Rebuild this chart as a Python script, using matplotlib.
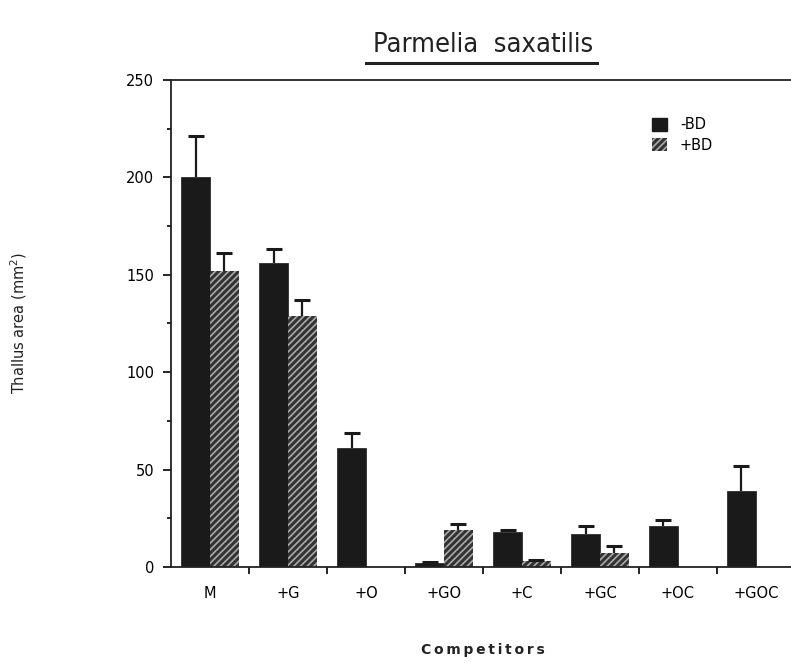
import matplotlib
matplotlib.use("Agg")
import matplotlib.pyplot as plt
import numpy as np
from matplotlib.patches import Patch

categories = ["M", "+G", "+O", "+GO", "+C", "+GC", "+OC", "+GOC"]
minus_bd = [200, 156, 61, 2, 18, 17, 21, 39]
minus_bd_err = [21, 7, 8, 0.5, 1, 4, 3, 13]
plus_bd = [152, 129, 0, 19, 3, 7, 0, 0]
plus_bd_err = [9, 8, 0, 3, 0.5, 4, 0, 0]

plt.rcParams['hatch.linewidth'] = 1.2
fig = plt.figure(figsize=(7.91, 6.65), dpi=100)
ax = fig.add_axes([0.2162, 0.1474, 0.7838, 0.7323])

x = np.arange(len(categories))
w = 0.37


def up_err(xs, ys, es):
    eb = ax.errorbar(xs, ys, yerr=[np.zeros(len(xs)), es], fmt='none',
                     ecolor='#1a1a1a', elinewidth=1.6, capsize=6, capthick=2.2, zorder=3)
    caps = eb[1]
    if len(caps) == 2:
        caps[0].set_visible(False)


ax.bar(x - w/2, minus_bd, w, color='#1a1a1a', edgecolor='#1a1a1a', linewidth=0.5, zorder=2)
up_err(x - w/2, np.array(minus_bd), np.array(minus_bd_err))
mask = np.array(plus_bd) > 0
ax.bar((x + w/2)[mask], np.array(plus_bd)[mask], w, color='#333333', edgecolor='#aaaaaa',
       hatch='/////', linewidth=0, zorder=2)
up_err((x + w/2)[mask], np.array(plus_bd)[mask], np.array(plus_bd_err)[mask])

ax.set_xlim(-0.5, 7.45)
ax.set_ylim(0, 250)
ax.set_yticks([0, 50, 100, 150, 200, 250])
ax.set_yticks([25, 75, 125, 175, 225], minor=True)
ax.tick_params(axis='y', which='major', direction='out', length=6, width=1.2, labelsize=10.5, pad=6)
ax.tick_params(axis='y', which='minor', direction='out', length=3, width=1.2)
ax.set_xticks(x)
ax.set_xticklabels(categories, fontsize=10.5)
ax.tick_params(axis='x', which='major', length=0, pad=14)
ax.set_xticks(np.arange(0.5, 7, 1), minor=True)
ax.tick_params(axis='x', which='minor', direction='out', length=5, width=1.2)
for s in ['left', 'bottom', 'top']:
    ax.spines[s].set_linewidth(1.3)
    ax.spines[s].set_color('#222222')
ax.spines['right'].set_visible(False)

fig.text(0.611, 0.932, "Parmelia  saxatilis", ha='center', va='center', fontsize=19.5,
         family='DejaVu Sans', stretch='condensed', color='#222222')
fig.add_artist(plt.Line2D([366/791, 597/791], [1 - 63/665, 1 - 63/665], color='#222222', lw=2.2))

fig.text(0.611, 0.022, "\u2009".join("Competitors"), ha='center', va='center', fontsize=10,
         fontweight='bold', color='#222222')
fig.text(0.024, 0.514, "Thallus area (mm$^2$)", ha='center', va='center', rotation=90,
         fontsize=10.5, color='#222222')

handles = [Patch(facecolor='#1a1a1a', edgecolor='#1a1a1a', label='-BD'),
           Patch(facecolor='#333333', edgecolor='#aaaaaa', hatch='/////', linewidth=0, label='+BD')]
ax.legend(handles=handles, loc='upper left', bbox_to_anchor=(0.755, 0.95), frameon=False,
          fontsize=10.5, handlelength=1.0, handleheight=1.0, handletextpad=0.9, labelspacing=0.35)

fig.savefig("out.png", dpi=100)
